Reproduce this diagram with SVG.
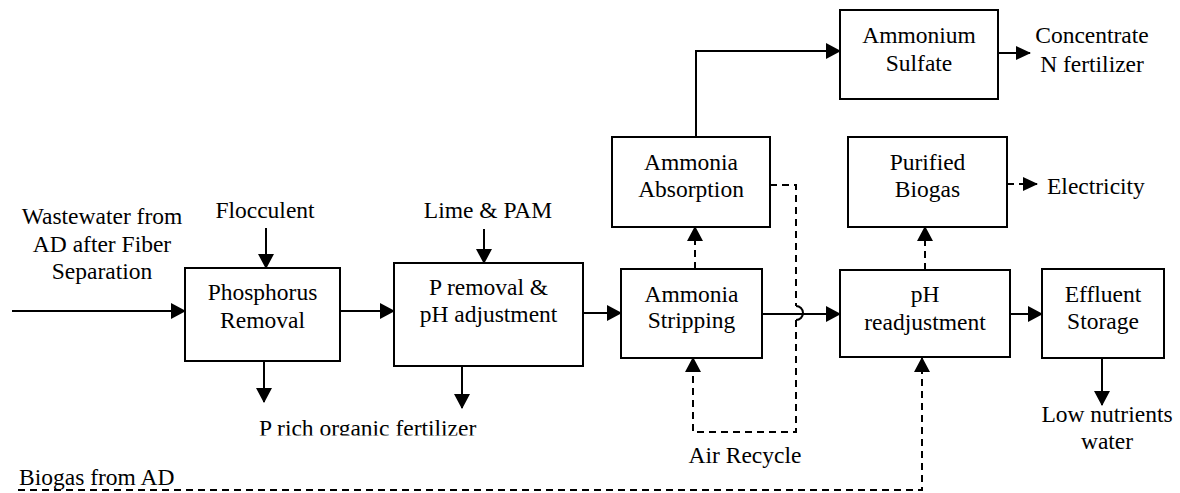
<svg xmlns="http://www.w3.org/2000/svg" width="1180" height="493" viewBox="0 0 1180 493" font-family="Liberation Serif, Times New Roman, serif">
<style>
.t{font-size:23.5px;fill:#000}
.c{text-anchor:middle}
.box{fill:#fff;stroke:#000;stroke-width:2}
.ln{fill:none;stroke:#000;stroke-width:2}
.ds{fill:none;stroke:#000;stroke-width:2;stroke-dasharray:7,5}
.ar{marker-end:url(#ah)}
.as{marker-end:url(#ahs)}
</style>
<defs>
<marker id="ah" viewBox="0 0 15 16" refX="14" refY="8" markerWidth="15" markerHeight="16" markerUnits="userSpaceOnUse" orient="auto">
<path d="M0,0 L15,8 L0,16 z" fill="#000"/>
</marker>
<marker id="ahs" viewBox="0 0 15 14" refX="14" refY="7" markerWidth="15" markerHeight="14" markerUnits="userSpaceOnUse" orient="auto">
<path d="M0,0 L15,7 L0,14 z" fill="#000"/>
</marker>
<clipPath id="clipP"><rect x="0" y="400" width="600" height="35.5"/></clipPath>
</defs>
<rect width="1180" height="493" fill="#fff"/>

<g id="connectors">
<line class="ln ar" x1="12" y1="311" x2="185" y2="311"/>
<line class="ln ar" x1="266" y1="228" x2="266" y2="268"/>
<line class="ln ar" x1="264" y1="361" x2="264" y2="402"/>
<line class="ln ar" x1="340" y1="311" x2="394" y2="311"/>
<line class="ln ar" x1="484" y1="229" x2="484" y2="263"/>
<line class="ln ar" x1="462" y1="366" x2="462" y2="408"/>
<line class="ln ar" x1="583" y1="313" x2="621" y2="313"/>
<line class="ds ar" x1="695" y1="269" x2="695" y2="227"/>
<polyline class="ln ar" points="696,137 696,51 840,51"/>
<line class="ln as" x1="998" y1="53" x2="1030" y2="53"/>
<line class="ln ar" x1="760" y1="314" x2="840" y2="314"/>
<polyline class="ds" points="770,185 796,185 796,306"/>
<path class="ln" d="M796,306 A7,7 0 0 1 796,320"/>
<polyline class="ds ar" points="796,320 796,432 693,432 693,358"/>
<line class="ds ar" x1="925" y1="270" x2="925" y2="227"/>
<line class="ds as" x1="1007" y1="184" x2="1037" y2="184"/>
<line class="ln ar" x1="1010" y1="314" x2="1042" y2="314"/>
<line class="ln ar" x1="1102" y1="358" x2="1102" y2="405"/>
<polyline class="ds ar" points="18,490 922,490 922,358"/>
</g>

<g id="labels" class="t">
<text class="c" x="102" y="224">Wastewater from</text>
<text class="c" x="102" y="252">AD after Fiber</text>
<text class="c" x="102" y="279">Separation</text>
<text class="c" x="265" y="218">Flocculent</text>
<text class="c" x="488" y="218">Lime &amp; PAM</text>
<text x="259" y="436" clip-path="url(#clipP)">P rich organic fertilizer</text>
<text class="c" x="745" y="463">Air Recycle</text>
<text x="19" y="485">Biogas from AD</text>
<text class="c" x="1092" y="43">Concentrate</text>
<text class="c" x="1092" y="72">N fertilizer</text>
<text x="1047" y="194">Electricity</text>
<text class="c" x="1107" y="422">Low nutrients</text>
<text class="c" x="1107" y="449">water</text>
</g>

<g id="phosphorus-removal" class="t">
<rect class="box" x="185" y="268" width="155" height="93"/>
<text class="c" x="262.5" y="300">Phosphorus</text>
<text class="c" x="262.5" y="328">Removal</text>
</g>
<g id="p-removal-ph" class="t">
<rect class="box" x="394" y="263" width="189" height="103"/>
<text class="c" x="488.5" y="295">P removal &amp;</text>
<text class="c" x="488.5" y="322">pH adjustment</text>
</g>
<g id="ammonia-stripping" class="t">
<rect class="box" x="621" y="269" width="141" height="89"/>
<text class="c" x="691.5" y="302">Ammonia</text>
<text class="c" x="691.5" y="328">Stripping</text>
</g>
<g id="ammonia-absorption" class="t">
<rect class="box" x="612" y="137" width="158" height="90"/>
<text class="c" x="691" y="170">Ammonia</text>
<text class="c" x="691" y="197">Absorption</text>
</g>
<g id="ammonium-sulfate" class="t">
<rect class="box" x="840" y="10" width="158" height="89"/>
<text class="c" x="919" y="43">Ammonium</text>
<text class="c" x="919" y="71">Sulfate</text>
</g>
<g id="purified-biogas" class="t">
<rect class="box" x="848" y="137" width="159" height="90"/>
<text class="c" x="927.5" y="170">Purified</text>
<text class="c" x="927.5" y="197">Biogas</text>
</g>
<g id="ph-readjustment" class="t">
<rect class="box" x="840" y="270" width="170" height="87"/>
<text class="c" x="925" y="302">pH</text>
<text class="c" x="925" y="330">readjustment</text>
</g>
<g id="effluent-storage" class="t">
<rect class="box" x="1042" y="269" width="122" height="89"/>
<text class="c" x="1103" y="302">Effluent</text>
<text class="c" x="1103" y="329">Storage</text>
</g>
</svg>
